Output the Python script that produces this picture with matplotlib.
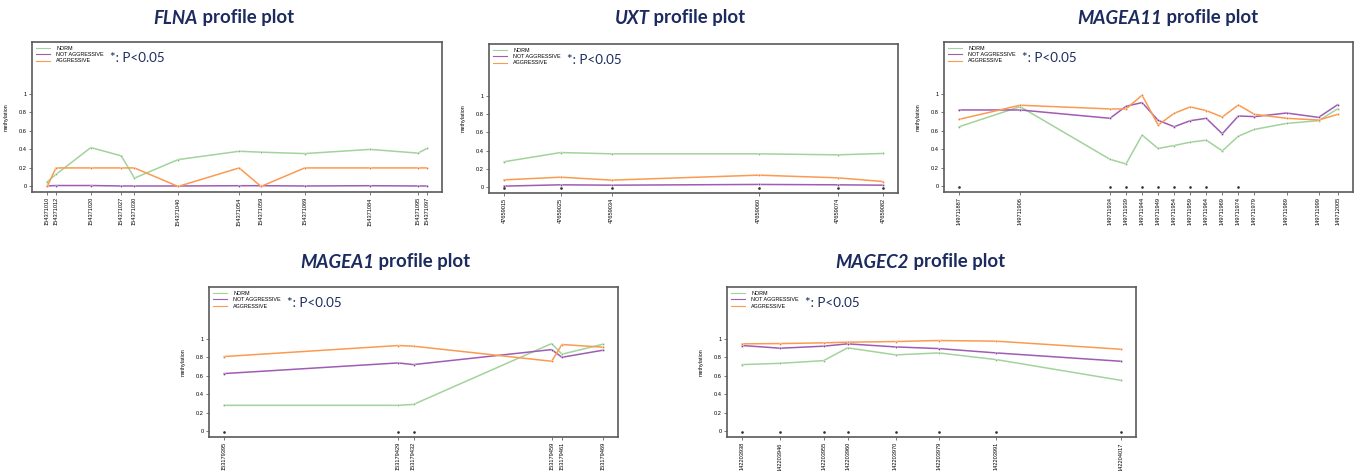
import numpy as np
import matplotlib.pyplot as plt

# --- data (methylation per CpG position) ---
flna_pos = [154371010, 154371012, 154371020, 154371027, 154371030, 154371040,
            154371054, 154371059, 154371069, 154371084, 154371095, 154371097]
flna_norm = [0.05, 0.13, 0.42, 0.33, 0.09, 0.29, 0.38, 0.37, 0.355, 0.40, 0.36, 0.41]
flna_notagg = [0.005, 0.01, 0.01, 0.005, 0.005, 0.005, 0.008, 0.008, 0.005, 0.008, 0.005, 0.005]
flna_agg = [0.0, 0.20, 0.20, 0.20, 0.20, 0.0, 0.20, 0.0, 0.20, 0.20, 0.20, 0.20]
flna_sig = []

uxt_pos = [47659015, 47659025, 47659034, 47659060, 47659074, 47659082]
uxt_norm = [0.28, 0.38, 0.366, 0.366, 0.355, 0.37]
uxt_notagg = [0.015, 0.029, 0.025, 0.033, 0.029, 0.025]
uxt_agg = [0.083, 0.112, 0.08, 0.134, 0.105, 0.065]
uxt_sig = uxt_pos

magea11_pos = [149711887, 149711906, 149711934, 149711939, 149711944, 149711949,
               149711954, 149711959, 149711964, 149711969, 149711974, 149711979,
               149711989, 149711999, 149712005]
magea11_norm = [0.645, 0.862, 0.293, 0.243, 0.554, 0.41, 0.442, 0.478, 0.50,
                0.384, 0.543, 0.616, 0.681, 0.71, 0.84]
magea11_notagg = [0.826, 0.826, 0.736, 0.866, 0.906, 0.714, 0.645, 0.71, 0.736,
                  0.569, 0.761, 0.754, 0.793, 0.746, 0.884]
magea11_agg = [0.725, 0.877, 0.837, 0.837, 0.986, 0.663, 0.79, 0.859, 0.819,
               0.75, 0.88, 0.779, 0.736, 0.717, 0.779]
magea11_sig = [149711887, 149711934, 149711939, 149711944, 149711949,
               149711954, 149711959, 149711964, 149711974]

magea1_pos = [153179395, 153179429, 153179432, 153179459, 153179461, 153179469]
magea1_norm = [0.282, 0.282, 0.292, 0.949, 0.834, 0.942]
magea1_notagg = [0.625, 0.74, 0.722, 0.884, 0.801, 0.877]
magea1_agg = [0.809, 0.928, 0.921, 0.758, 0.939, 0.91]
magea1_sig = [153179395, 153179429, 153179432]

magec2_pos = [142203938, 142203946, 142203955, 142203960, 142203970, 142203979,
              142203991, 142204017]
magec2_norm = [0.722, 0.736, 0.765, 0.903, 0.827, 0.848, 0.776, 0.552]
magec2_notagg = [0.928, 0.899, 0.921, 0.946, 0.913, 0.895, 0.848, 0.758]
magec2_agg = [0.946, 0.949, 0.957, 0.964, 0.971, 0.982, 0.975, 0.888]
magec2_sig = magec2_pos

groups = ['NORM', 'NOT AGGRESSIVE', 'AGGRESSIVE']
line_colors = ['#a3d39c', '#a05cb4', '#fb9a50']
dot_colors = ['#7cb874', '#7a3a8e', '#f07a26']
navy = '#1b2b5e'

W, H = 1356, 471
fig = plt.figure(figsize=(W / 100, H / 100), dpi=100)


def px_axes(x0, y0, x1, y1):
    # pixel box (from top-left) -> figure fraction
    return fig.add_axes([x0 / W, 1 - y1 / H, (x1 - x0) / W, (y1 - y0) / H])


def draw_panel(ax, pos, norm, notagg, agg, sig):
    for vals, lc, dc, name in zip([norm, notagg, agg], line_colors, dot_colors, groups):
        ax.plot(pos, vals, color=lc, lw=1.1, label=name)
        ax.plot(pos, vals, ls='none', marker='o', ms=1.6, mfc=dc, mec='white', mew=0.3)
    if sig:
        ax.plot(sig, [-0.01] * len(sig), ls='none', marker='o', ms=0.9, color='#333333')
    ax.margins(x=0.04)
    ax.set_ylim(-0.06, 1.56)
    ax.set_yticks([0, 0.2, 0.4, 0.6, 0.8, 1])
    ax.set_yticklabels(['0', '0.2', '0.4', '0.6', '0.8', '1'])
    ax.set_xticks(pos)
    ax.set_xticklabels([str(p) for p in pos], rotation=90)
    ax.tick_params(labelsize=4.1, length=2.2, width=0.5, pad=1.5, color='#444444')
    for lab in ax.get_xticklabels() + ax.get_yticklabels():
        lab.set_family('Liberation Sans')
    for s in ax.spines.values():
        s.set_color('#5a5a5a')
        s.set_linewidth(1.2)
    ax.set_ylabel('methylation', fontsize=3.9, family='Liberation Sans', labelpad=7)
    leg = ax.legend(loc='upper left', frameon=False, handlelength=2.6, handletextpad=1.2,
                    labelspacing=0.25, borderaxespad=0.3,
                    prop={'family': 'Liberation Sans', 'size': 3.9})
    for h in leg.get_lines():
        h.set_linewidth(0.8)
    ax.text(0.19, 0.895, '*: P<0.05', transform=ax.transAxes, ha='left', va='center',
            fontsize=9.6, color=navy, family='Lato')


def title(cx, cy, gene):
    t1 = fig.text(0, 1 - cy / H, gene, style='italic', weight='bold', fontsize=13.4,
                  color=navy, family='Lato', va='center')
    t2 = fig.text(0, 1 - cy / H, ' profile plot', weight='bold', fontsize=13.4,
                  color=navy, family='Lato', va='center')
    r = fig.canvas.get_renderer()
    w1 = t1.get_window_extent(r).width
    w2 = t2.get_window_extent(r).width
    x0 = cx - (w1 + w2) / 2
    t1.set_x(x0 / W)
    t2.set_x((x0 + w1) / W)


panels = [
    ((32, 42, 442, 192), 224, 18, 'FLNA', flna_pos, flna_norm, flna_notagg, flna_agg, flna_sig),
    ((489, 44, 898, 193), 680, 18, 'UXT', uxt_pos, uxt_norm, uxt_notagg, uxt_agg, uxt_sig),
    ((944, 42, 1353, 192), 1168, 18, 'MAGEA11', magea11_pos, magea11_norm, magea11_notagg,
     magea11_agg, magea11_sig),
    ((209, 287, 618, 437), 385, 262, 'MAGEA1', magea1_pos, magea1_norm, magea1_notagg,
     magea1_agg, magea1_sig),
    ((727, 287, 1136, 437), 920, 262, 'MAGEC2', magec2_pos, magec2_norm, magec2_notagg,
     magec2_agg, magec2_sig),
]

for box, cx, cy, gene, pos, norm, notagg, agg, sig in panels:
    ax = px_axes(*box)
    draw_panel(ax, pos, norm, notagg, agg, sig)
    title(cx, cy, gene)

fig.savefig('out.png', dpi=100)
